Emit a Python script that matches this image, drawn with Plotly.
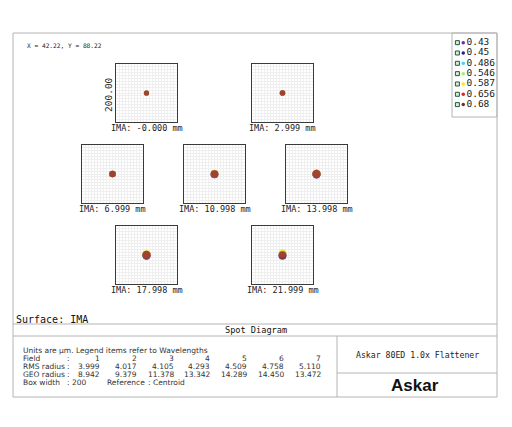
import plotly.graph_objects as go

# the page body adds an 8px margin, so the figure is sized to fill the rest
PAGE_W, PAGE_H, BODY = 512, 427, 8
W, H = PAGE_W - 2 * BODY, PAGE_H - 2 * BODY

wavelengths = ["0.43", "0.45", "0.486", "0.546", "0.587", "0.656", "0.68"]
wave_colors = ["#7a20c0", "#202090", "#30e0f0", "#a0f060", "#ffe020", "#e02030", "#7a2a28"]

field_labels = ["-0.000", "2.999", "6.999", "10.998", "13.998", "17.998", "21.999"]
rms_radius = [3.999, 4.017, 4.105, 4.293, 4.509, 4.758, 5.110]
geo_radius = [8.942, 9.379, 11.378, 13.342, 14.289, 14.450, 13.472]
box_width = 200

# centroid offset of each wavelength in each field (um)
spot_dy = [
    [0, 0, 0, 0, 0, 0, 0],
    [0, 0, 0, 0, 0, 0, 0],
    [0, 0, 0, 0, 0, 0, 0],
    [-1, -1, 0, 1, 1, 0, 0],
    [-1, -1, 0, 1, 2, 0, 0],
    [-2, -2, 0, 2, 3, 0, 0],
    [-3, -2, 1, 5, 7, 0, -1],
]

# box placement in reference pixels (left, top)
box_pos = [(116, 64), (252, 64), (82, 145), (184, 145), (286, 145), (116, 226), (252, 226)]
BOX = 61


def px(x):
    return (x - BODY) / W


def py(y):
    return 1 - (y - BODY) / H


fig = go.Figure()
layout_axes = {}
annotations = []
px_per_um = BOX / box_width

for i, (left, top) in enumerate(box_pos):
    n = i + 1
    xa = "x" if n == 1 else f"x{n}"
    ya = "y" if n == 1 else f"y{n}"
    ax_common = dict(
        range=[-box_width / 2, box_width / 2],
        showgrid=True,
        gridcolor="#efefef",
        gridwidth=1,
        dtick=10,
        tick0=0,
        showticklabels=False,
        zeroline=False,
        showline=True,
        linecolor="#3a3a3a",
        linewidth=1,
        mirror=True,
        ticks="",
        fixedrange=True,
    )
    layout_axes["xaxis" if n == 1 else f"xaxis{n}"] = dict(
        ax_common, domain=[px(left), px(left + BOX)], anchor=ya
    )
    layout_axes["yaxis" if n == 1 else f"yaxis{n}"] = dict(
        ax_common, domain=[py(top + BOX - 3), py(top)], anchor=xa
    )
    size = 2 * geo_radius[i] * px_per_um * 0.95
    for w, (wl, col) in enumerate(zip(wavelengths, wave_colors)):
        fig.add_trace(
            go.Scatter(
                x=[0],
                y=[spot_dy[i][w]],
                mode="markers",
                marker=dict(color=col, size=size, opacity=0.6, line=dict(width=0)),
                xaxis=xa,
                yaxis=ya,
                showlegend=False,
                hoverinfo="skip",
            )
        )
    annotations.append(
        dict(
            text=f"IMA: {field_labels[i]} mm",
            xref="paper", yref="paper",
            x=px(left + BOX / 2), y=py(top + BOX - 3),
            xanchor="center", yanchor="top", yshift=1,
            showarrow=False,
            font=dict(family="DejaVu Sans Mono", size=8.5, color="#222"),
        )
    )

# box width label on first box
annotations.append(
    dict(
        text=f"{box_width:.2f}",
        xref="paper", yref="paper",
        x=px(box_pos[0][0]), y=py(box_pos[0][1] + BOX / 2),
        xanchor="right", yanchor="middle",
        textangle=-90, showarrow=False,
        font=dict(family="DejaVu Sans Mono", size=9.5, color="#222"),
    )
)

# legend panel
n_leg = len(wavelengths)
layout_axes["xaxis8"] = dict(
    domain=[px(452), px(497)], range=[0, 10], visible=False, fixedrange=True, anchor="y8"
)
layout_axes["yaxis8"] = dict(
    domain=[py(117), py(31)], range=[n_leg - 1 + 1.2, -1.13], visible=False,
    fixedrange=True, anchor="x8"
)
rows = list(range(n_leg))
fig.add_trace(
    go.Scatter(
        x=[1.2] * n_leg, y=rows, mode="markers",
        marker=dict(symbol="square", size=4, color="#d8ecd8", line=dict(color="#1f5a3a", width=1)),
        xaxis="x8", yaxis="y8", showlegend=False, hoverinfo="skip",
    )
)
fig.add_trace(
    go.Scatter(
        x=[2.5] * n_leg, y=rows, mode="markers+text",
        marker=dict(size=3.5, color=wave_colors),
        text=wavelengths, textposition="middle right",
        textfont=dict(family="DejaVu Sans Mono", size=9.5, color="#222"),
        xaxis="x8", yaxis="y8", showlegend=False, hoverinfo="skip",
    )
)

# text block
small = dict(family="DejaVu Sans", size=7.5, color="#333")


def note(text, x, y, anchor="left", font=None):
    annotations.append(
        dict(
            text=text, xref="paper", yref="paper", x=px(x), y=py(y),
            xanchor=anchor, yanchor="middle", showarrow=False,
            font=font or small,
        )
    )


note("X = 42.22, Y = 88.22", 25, 45, font=dict(family="DejaVu Sans Mono", size=6.2, color="#222"))
note("Surface: IMA", 14, 319, font=dict(family="DejaVu Sans Mono", size=10, color="#111"))
note("Spot Diagram", 256, 330, anchor="center", font=dict(family="DejaVu Sans Mono", size=8.6, color="#111"))
note("Units are µm. Legend items refer to Wavelengths", 21, 350)
note("Field", 21, 358)
note("RMS radius", 21, 366)
note("GEO radius", 21, 374)
note("Box width", 21, 382)
for yy in (358, 366, 374, 382):
    note(":", 65, yy)
note(f"{box_width}", 70, 382)
note("Reference", 105, 382)
note(": Centroid", 146, 382)
for k in range(len(field_labels)):
    xr = 102 + 36.8 * k
    note(f"{k + 1}", xr, 358, anchor="right")
    note(f"{rms_radius[k]:.3f}", xr, 366, anchor="right")
    note(f"{geo_radius[k]:.3f}", xr, 374, anchor="right")
note("Askar 80ED 1.0x Flattener", 417, 355, anchor="center",
     font=dict(family="DejaVu Sans Mono", size=8.2, color="#222"))
note("<b>Askar</b>", 415, 385, anchor="center",
     font=dict(family="Liberation Sans", size=17, color="#111"))

frame = "#b4b4b4"
shapes = [
    dict(type="rect", xref="paper", yref="paper", x0=px(13), x1=px(497), y0=py(397), y1=py(33),
         line=dict(color=frame, width=1)),
    dict(type="rect", xref="paper", yref="paper", x0=px(452), x1=px(497), y0=py(117), y1=py(33),
         line=dict(color=frame, width=1)),
    dict(type="line", xref="paper", yref="paper", x0=px(13), x1=px(497), y0=py(324), y1=py(324),
         line=dict(color=frame, width=1)),
    dict(type="line", xref="paper", yref="paper", x0=px(13), x1=px(497), y0=py(336), y1=py(336),
         line=dict(color=frame, width=1)),
    dict(type="line", xref="paper", yref="paper", x0=px(337), x1=px(337), y0=py(397), y1=py(336),
         line=dict(color=frame, width=1)),
    dict(type="line", xref="paper", yref="paper", x0=px(337), x1=px(497), y0=py(373), y1=py(373),
         line=dict(color=frame, width=1)),
]

fig.update_layout(
    width=W, height=H,
    margin=dict(l=0, r=0, t=0, b=0),
    paper_bgcolor="white", plot_bgcolor="white",
    annotations=annotations, shapes=shapes,
    **layout_axes,
)

fig.write_html("out.html", config={"displayModeBar": False})
